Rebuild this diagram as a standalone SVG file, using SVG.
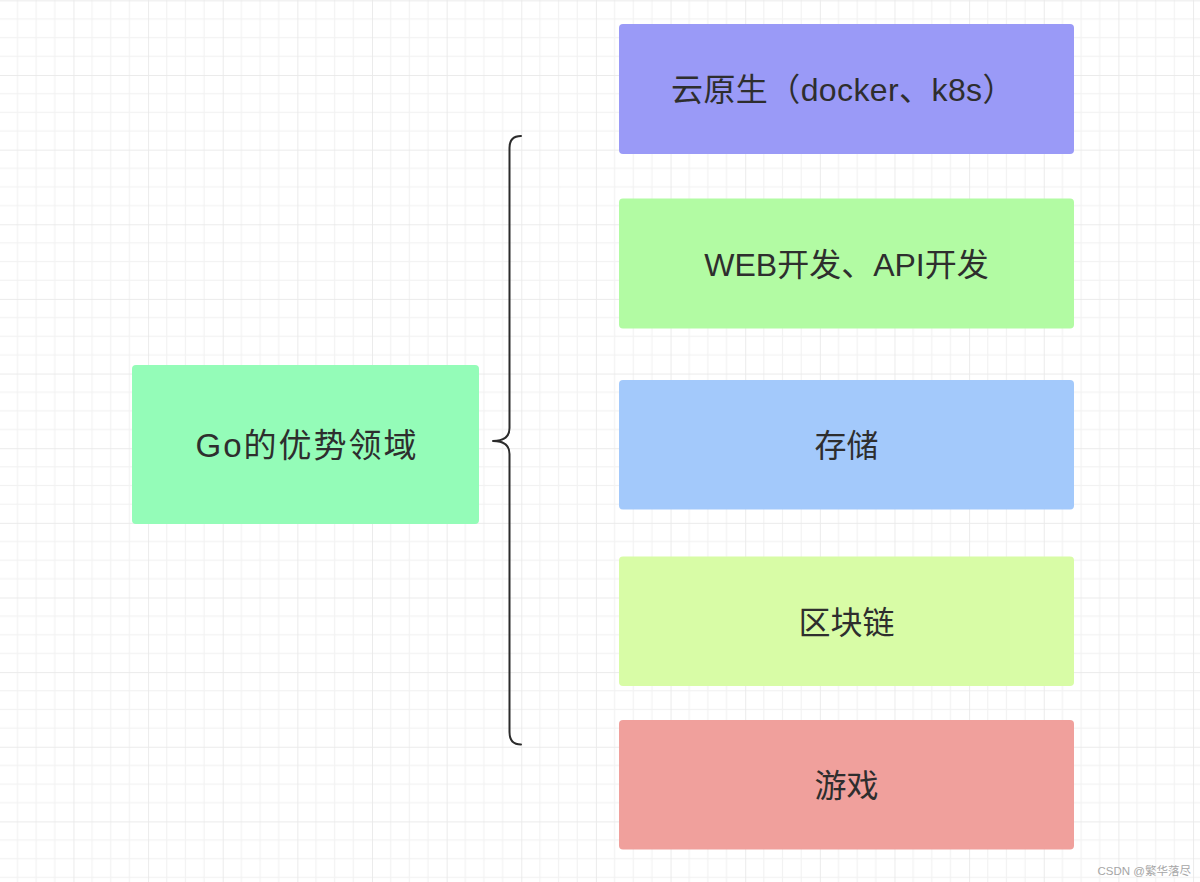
<svg xmlns="http://www.w3.org/2000/svg" width="1200" height="882" viewBox="0 0 1200 882">
  <defs>
    <pattern id="grid" patternUnits="userSpaceOnUse" x="-1.2" y="0.36" width="74.64" height="74.64">
      <rect x="18.06" y="0" width="1.2" height="74.64" fill="#f2f2f2"/>
      <rect x="36.72" y="0" width="1.2" height="74.64" fill="#f2f2f2"/>
      <rect x="55.38" y="0" width="1.2" height="74.64" fill="#f2f2f2"/>
      <rect x="0" y="18.06" width="74.64" height="1.2" fill="#f2f2f2"/>
      <rect x="0" y="36.72" width="74.64" height="1.2" fill="#f2f2f2"/>
      <rect x="0" y="55.38" width="74.64" height="1.2" fill="#f2f2f2"/>
      <rect x="-0.6" y="0" width="1.5" height="74.64" fill="#e9e9e9"/>
      <rect x="0" y="-0.6" width="74.64" height="1.5" fill="#e9e9e9"/>
    </pattern>
  </defs>
  <style>
    .box { stroke: none; }
    .label { font-family: "Liberation Sans", "Noto Sans CJK SC", sans-serif; font-size: 32px; fill: #2e2e2e; text-anchor: middle; }
    .brace { fill: none; stroke: #2b2b2b; stroke-width: 2; stroke-linecap: round; stroke-linejoin: round; }
    .wm { font-family: "Liberation Sans", "Noto Sans CJK SC", sans-serif; font-size: 11.5px; fill: #a6a6a6; text-anchor: end; }
  </style>
  <rect x="0" y="0" width="1200" height="882" fill="#ffffff"/>
  <rect x="0" y="0" width="1200" height="882" fill="url(#grid)"/>

  <g id="connectors">
    <path class="brace" d="M521,136 Q509.5,136 509.5,148 L509.5,428 Q509.5,441 493,441 Q509.5,441 509.5,454 L509.5,732 Q509.5,744.5 521,744.5"/>
  </g>

  <g id="node-go">
    <rect class="box" x="132" y="365" width="347" height="159" rx="4" fill="#94fcb8"/>
    <text class="label" x="307" y="457" style="font-size:33px;letter-spacing:2px">Go的优势领域</text>
  </g>
  <g id="node-cloud">
    <rect class="box" x="619" y="24" width="455" height="130" rx="4" fill="#9a9af7"/>
    <text class="label" x="843" y="101" style="letter-spacing:0.4px">云原生（docker、k8s）</text>
  </g>
  <g id="node-web">
    <rect class="box" x="619" y="198.5" width="455" height="130" rx="4" fill="#b2fba3"/>
    <text class="label" x="846.5" y="275.5">WEB开发、API开发</text>
  </g>
  <g id="node-storage">
    <rect class="box" x="619" y="380" width="455" height="129.5" rx="4" fill="#a3c9fb"/>
    <text class="label" x="846.5" y="456.5">存储</text>
  </g>
  <g id="node-blockchain">
    <rect class="box" x="619" y="556.5" width="455" height="129.5" rx="4" fill="#d8fca6"/>
    <text class="label" x="846.5" y="633.5">区块链</text>
  </g>
  <g id="node-game">
    <rect class="box" x="619" y="720" width="455" height="129.5" rx="4" fill="#f0a09c"/>
    <text class="label" x="846.5" y="797">游戏</text>
  </g>

  <text class="wm" x="1191" y="875">CSDN @繁华落尽</text>
</svg>
